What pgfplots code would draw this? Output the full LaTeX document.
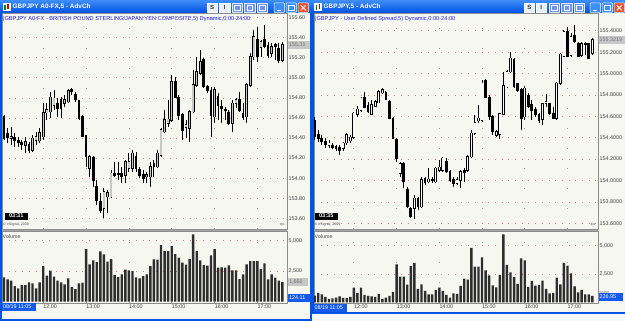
\documentclass[border=0pt]{standalone}
\usepackage{fontspec}
\setmainfont{Liberation Sans}
\newfontfamily\dejavu{DejaVu Sans}
\usepackage{pgfplots}
\usepackage{pgfplotstable}
\pgfplotsset{compat=1.18}

\definecolor{xpblue}{RGB}{0,84,227}
\definecolor{tbtop}{RGB}{62,142,250}
\definecolor{tbbot}{RGB}{0,80,224}
\definecolor{chartbg}{RGB}{247,247,242}
\definecolor{infoblue}{RGB}{30,30,230}
\definecolor{gridpink}{RGB}{228,128,128}
\definecolor{hollowL}{RGB}{200,200,200}
\definecolor{hollowR}{RGB}{250,250,250}
\definecolor{selblue}{RGB}{20,90,235}
\definecolor{btnblue}{RGB}{110,150,240}

\newcommand{\sm}{\fontsize{5.4}{6}\selectfont}

% left: GBPJPY A0-FX, 5 min candles (open high low close)
\pgfplotstableread{
o h l c
154.613 154.630 154.381 154.397
154.447 154.497 154.348 154.407
154.397 154.514 154.331 154.414
154.407 154.447 154.314 154.381
154.374 154.414 154.308 154.354
154.354 154.381 154.281 154.341
154.331 154.414 154.248 154.364
154.331 154.364 154.248 154.274
154.281 154.431 154.264 154.397
154.381 154.464 154.331 154.414
154.374 154.497 154.354 154.454
154.414 154.746 154.381 154.653
154.653 154.746 154.580 154.680
154.663 154.862 154.597 154.806
154.730 154.879 154.680 154.796
154.740 154.796 154.613 154.696
154.786 154.813 154.597 154.696
154.746 154.829 154.713 154.779
154.763 154.886 154.746 154.873
154.879 154.896 154.829 154.862
154.829 154.862 154.763 154.786
154.769 154.779 154.580 154.597
154.613 154.630 154.407 154.421
154.421 154.431 154.115 154.215
154.098 154.231 154.015 154.215
154.208 154.221 153.916 153.982
153.916 153.982 153.733 153.783
153.766 153.849 153.650 153.683
153.700 153.899 153.600 153.866
153.816 153.882 153.650 153.856
153.816 154.082 153.799 154.049
154.049 154.165 154.015 154.032
154.049 154.165 153.982 154.042
154.049 154.115 153.949 154.015
154.032 154.181 153.949 154.165
154.098 154.248 154.065 154.165
154.098 154.281 154.065 154.248
154.215 154.264 154.065 154.098
154.088 154.115 153.999 154.032
154.032 154.082 153.949 153.999
154.015 154.065 153.949 154.032
154.015 154.165 153.916 154.115
154.142 154.181 154.015 154.115
154.115 154.281 154.098 154.248
154.231 154.497 154.215 154.480
154.464 154.680 154.447 154.580
154.547 154.779 154.514 154.587
154.580 155.029 154.563 154.963
154.963 155.012 154.796 154.806
154.806 154.829 154.580 154.630
154.630 154.646 154.381 154.480
154.507 154.580 154.397 154.530
154.497 154.680 154.364 154.663
154.663 155.078 154.646 154.929
154.929 155.211 154.912 155.062
155.045 155.278 155.029 155.161
155.178 155.195 154.896 154.912
154.912 154.929 154.846 154.873
154.873 154.912 154.414 154.630
154.613 154.912 154.547 154.879
154.813 154.846 154.580 154.730
154.713 154.779 154.547 154.696
154.686 154.713 154.580 154.673
154.653 154.680 154.530 154.547
154.547 154.779 154.464 154.746
154.746 154.796 154.696 154.779
154.779 154.862 154.663 154.673
154.640 154.746 154.580 154.607
154.613 154.946 154.547 154.929
154.929 155.244 154.912 155.211
155.211 155.477 155.178 155.411
155.377 155.510 155.161 155.211
155.304 155.377 155.211 155.361
155.377 155.527 155.294 155.311
155.318 155.361 155.195 155.228
155.244 155.344 155.211 155.311
155.328 155.344 155.178 155.311
155.294 155.344 155.145 155.178
155.178 155.361 155.161 155.328
}\leftpx

% right: GBPJPY user defined spread, 5 min candles
\pgfplotstableread{
o h l c
154.560 154.597 154.379 154.410
154.426 154.472 154.363 154.394
154.394 154.426 154.332 154.363
154.363 154.394 154.301 154.341
154.332 154.379 154.301 154.348
154.323 154.348 154.292 154.310
154.317 154.332 154.279 154.301
154.307 154.332 154.239 154.279
154.301 154.363 154.279 154.348
154.354 154.441 154.332 154.426
154.373 154.426 154.354 154.404
154.404 154.644 154.385 154.628
154.622 154.697 154.597 154.665
154.659 154.783 154.644 154.768
154.778 154.830 154.675 154.684
154.697 154.737 154.628 154.644
154.622 154.753 154.612 154.706
154.697 154.753 154.684 154.737
154.728 154.846 154.721 154.830
154.821 154.862 154.809 154.846
154.821 154.840 154.753 154.759
154.737 154.753 154.572 154.581
154.581 154.597 154.385 154.394
154.379 154.394 154.176 154.207
154.067 154.176 154.036 154.155
154.155 154.176 153.927 153.989
153.912 153.943 153.740 153.756
153.740 153.756 153.647 153.662
153.740 153.865 153.637 153.834
153.834 153.849 153.725 153.756
153.756 154.036 153.740 154.005
154.021 154.036 153.958 153.980
153.989 154.114 153.974 154.011
154.011 154.036 153.980 153.999
153.989 154.130 153.974 154.114
154.098 154.192 154.083 154.123
154.098 154.223 154.083 154.207
154.176 154.207 154.067 154.083
154.083 154.098 153.989 154.005
154.005 154.036 153.943 153.974
153.974 154.036 153.958 154.005
154.005 154.098 153.927 154.083
154.092 154.114 153.989 154.073
154.098 154.239 154.083 154.223
154.223 154.472 154.207 154.441
154.441 154.612 154.426 154.541
154.560 154.706 154.535 154.581
154.566 154.940 154.550 154.908
154.933 154.946 154.768 154.778
154.778 154.799 154.566 154.597
154.597 154.612 154.426 154.457
154.426 154.472 154.410 154.457
154.435 154.634 154.385 154.622
154.622 155.017 154.612 154.883
154.877 155.033 154.862 155.017
155.017 155.204 155.002 155.142
155.133 155.142 154.862 154.877
154.902 154.915 154.830 154.846
154.846 154.862 154.472 154.581
154.597 154.883 154.566 154.862
154.790 154.815 154.675 154.690
154.706 154.753 154.566 154.659
154.665 154.684 154.597 154.622
154.612 154.628 154.535 154.566
154.572 154.728 154.519 154.715
154.721 154.809 154.690 154.737
154.715 154.728 154.612 154.628
154.622 154.684 154.572 154.581
154.581 154.924 154.566 154.908
154.908 155.189 154.893 155.179
155.164 155.407 155.151 155.391
155.391 155.438 155.151 155.164
155.173 155.376 155.158 155.345
155.351 155.454 155.282 155.298
155.282 155.298 155.151 155.158
155.173 155.298 155.158 155.276
155.282 155.298 155.173 155.276
155.276 155.288 155.133 155.142
155.189 155.329 155.173 155.313
}\rightpx

\pgfplotstableread{
v
1993
1829
1720
1283
1092
1365
1365
1583
1502
1092
1583
2921
2129
2539
2048
1720
1583
1420
1911
1201
1037
1502
1556
4313
3058
3385
3249
4122
3877
3276
3494
2184
2020
2239
2621
2566
2512
1993
1911
2102
2239
2921
3467
3440
4641
4150
4150
4559
3904
3604
3194
3030
3494
5515
4150
3385
3003
2948
3795
4313
2785
2812
2785
2976
2566
2566
1856
2239
3058
3331
3331
3331
2675
3140
1829
2239
1966
1720
1611
}\leftvol

\pgfplotstableread{
v
588
823
706
470
294
353
412
529
382
382
470
1294
823
1294
647
559
529
470
735
294
412
559
911
3352
2264
2264
1558
3205
3469
1176
1588
1000
706
706
1088
1294
1000
647
412
794
735
1441
2087
1999
4792
3146
3146
3969
2822
2381
1499
1323
2411
5998
3293
2646
2234
1617
3881
3704
1352
1882
1470
1529
1911
1176
794
823
2176
1588
3469
3234
2558
1411
882
1088
706
706
559
}\rightvol

\pgfplotsset{
  panel/.style={scale only axis, anchor=north west,
    axis line style={draw=black!45, line width=0.6pt},
    major tick length=0pt, tick style={draw=none},
    xtick={11,23,35,47,59,71},
    xmajorgrids, ymajorgrids,
    x grid style={draw=black!40, line width=0.8pt, dash pattern=on 0.8pt off 19.2pt},
    y grid style={draw=gridpink, line width=0.7pt, dash pattern=on 0.8pt off 5.9pt},
    ticklabel style={font=\sm, text=black!75},
    yticklabel pos=right,
    yticklabel style={anchor=west, inner sep=0pt, xshift=1.5pt},
    /pgf/number format/assume math mode=true,
    scaled y ticks=false,
  },
  cbar/.style 2 args={draw=none, mark=none, forget plot,
    error bars/.cd, y dir=plus, y explicit, error mark=none,
    error bar style={draw=#1, solid, line cap=butt, line width=#2}},
}

\begin{document}
\begin{tikzpicture}
\path[use as bounding box] (0pt,0pt) rectangle (625pt,-321pt);
\begin{scope}[x=1pt,y=-1pt]
  % window frames
  \fill[xpblue] (0,0) rectangle (311.5,321);
  \fill[chartbg] (2,13) rectangle (309.5,318.5);
  \fill[white!94!gray] (311.5,313.5) rectangle (625,321);
  \fill[xpblue] (311.5,0) rectangle (625,313.5);
  \fill[chartbg] (314,13) rectangle (625,311.5);
  % title bars
  \shade[top color=tbtop, bottom color=tbbot] (0,0) rectangle (311.5,13);
  \shade[top color=tbtop, bottom color=tbbot] (311.5,0) rectangle (625,13);
  % separators
  \fill[black!35] (2,229) rectangle (287,231);
  \fill[black!35] (314,229) rectangle (598,231);
\end{scope}

% ---------- LEFT WINDOW ----------
\begin{axis}[panel, at={(2pt,-13pt)}, width=285pt, height=216pt,
  xmin=-0.56, xmax=79.3, ymin=153.494, ymax=155.646,
  ytick={153.6,153.8,154.0,154.2,154.4,154.6,154.8,155.0,155.2,155.4,155.6},
  xticklabel={\relax},
  yticklabel style={/pgf/number format/.cd, fixed, fixed zerofill, precision=2}]
\addplot[cbar={black}{0.85pt}] table[x expr=\coordindex, y=l, y error plus expr={\thisrow{h}-\thisrow{l}}] {\leftpx};
\addplot[cbar={black}{2.75pt}] table[x expr=\coordindex, y expr={min(\thisrow{o},\thisrow{c})-0.006}, y error plus expr={abs(\thisrow{c}-\thisrow{o})+0.012}] {\leftpx};
\addplot[cbar={hollowL}{1.4pt}] table[x expr=\coordindex, y expr={min(\thisrow{o},\thisrow{c})}, y error plus expr={max(\thisrow{c}-\thisrow{o},0)}] {\leftpx};
\end{axis}

\begin{axis}[panel, at={(2pt,-231pt)}, width=285pt, height=72pt,
  xmin=-0.56, xmax=79.3, ymin=-107, ymax=5795,
  ytick={2500,5000},
  xticklabels={12:00,13:00,14:00,15:00,16:00,17:00},
  xticklabel style={anchor=north west, inner sep=0pt, yshift=-1.5pt},
  yticklabel style={/pgf/number format/.cd, fixed, 1000 sep={,}}]
\addplot[ybar, bar width=2.4pt, fill=black!82, draw=none] table[x expr=\coordindex, y=v] {\leftvol};
\end{axis}

% ---------- RIGHT WINDOW ----------
\begin{axis}[panel, at={(314pt,-13pt)}, width=284pt, height=216pt,
  xmin=-0.2, xmax=79.58, ymin=153.547, ymax=155.566,
  ytick={153.6,153.8,154.0,154.2,154.4,154.6,154.8,155.0,155.2,155.4},
  xticklabel={\relax},
  yticklabel style={/pgf/number format/.cd, fixed, fixed zerofill, precision=4}]
\addplot[cbar={black}{0.85pt}] table[x expr=\coordindex, y=l, y error plus expr={\thisrow{h}-\thisrow{l}}] {\rightpx};
\addplot[cbar={black}{2.75pt}] table[x expr=\coordindex, y expr={min(\thisrow{o},\thisrow{c})-0.006}, y error plus expr={abs(\thisrow{c}-\thisrow{o})+0.012}] {\rightpx};
\addplot[cbar={hollowR}{1.4pt}] table[x expr=\coordindex, y expr={min(\thisrow{o},\thisrow{c})}, y error plus expr={max(\thisrow{c}-\thisrow{o},0)}] {\rightpx};
\end{axis}

\begin{axis}[panel, at={(314pt,-231pt)}, width=284pt, height=72pt,
  xmin=-0.2, xmax=79.58, ymin=-62, ymax=6288,
  ytick={2500,5000},
  xticklabels={12:00,13:00,14:00,15:00,16:00,17:00},
  xticklabel style={anchor=north west, inner sep=0pt, yshift=-1.5pt},
  yticklabel style={/pgf/number format/.cd, fixed, 1000 sep={,}}]
\addplot[ybar, bar width=2.4pt, fill=black!82, draw=none] table[x expr=\coordindex, y=v] {\rightvol};
\end{axis}

\begin{scope}[x=1pt,y=-1pt]
  % title texts and icons
  \fill[white] (2.5,3) rectangle (10.5,11);
  \fill[green!55!black] (4,5) rectangle (5.6,10);
  \fill[red!80!black] (7,4) rectangle (8.6,9);
  \node[anchor=west, inner sep=0pt, text=white, font=\bfseries\fontsize{6.4}{7}\selectfont] at (12.5,6.6) {GBPJPY A0-FX,5 - AdvCh};
  \fill[white] (314,3) rectangle (322,11);
  \fill[green!55!black] (315.5,5) rectangle (317.1,10);
  \fill[red!80!black] (318.5,4) rectangle (320.1,9);
  \node[anchor=west, inner sep=0pt, text=white, font=\bfseries\fontsize{6.4}{7}\selectfont] at (323.5,6.6) {GBPJPY,5 - AdvCh};
  % buttons left
  \foreach \bx/\bl in {207/S,219.5/I}{
    \filldraw[fill=white!85!btnblue, draw=white, line width=0.4pt] (\bx,3) rectangle ++(10.5,9.5);
    \node[font=\bfseries\fontsize{6}{6}\selectfont, text=black!80, inner sep=0pt] at (\bx+5.25,7.75) {\bl};}
  \foreach \bx in {232,244.5,257}{
    \filldraw[fill=btnblue, draw=white!80!btnblue, line width=0.4pt] (\bx,3) rectangle ++(10.5,9.5);
    \draw[white, line width=0.5pt] (\bx+2.5,5.5) rectangle ++(5.5,4.5);}
  \filldraw[fill=tbtop, draw=white, line width=0.5pt, rounded corners=0.8pt] (274,3) rectangle ++(10.5,9.5);
  \draw[white, line width=1pt] (276.5,10.5) -- ++(4,0);
  \filldraw[fill=tbtop, draw=white, line width=0.5pt, rounded corners=0.8pt] (286,3) rectangle ++(10.5,9.5);
  \draw[white, line width=0.6pt] (288.5,5.3) rectangle ++(5.5,5);
  \filldraw[fill={rgb,255:red,226;green,86;blue,50}, draw=white, line width=0.5pt, rounded corners=0.8pt] (298,3) rectangle ++(10.5,9.5);
  \draw[white, line width=0.9pt] (300.8,5.2) -- ++(5,5) (300.8,10.2) -- ++(5,-5);
  % buttons right
  \foreach \bx/\bl in {524/S,536/I}{
    \filldraw[fill=white!85!btnblue, draw=white, line width=0.4pt] (\bx,3) rectangle ++(10.5,9.5);
    \node[font=\bfseries\fontsize{6}{6}\selectfont, text=black!80, inner sep=0pt] at (\bx+5.25,7.75) {\bl};}
  \foreach \bx in {549,561.5,574}{
    \filldraw[fill=btnblue, draw=white!80!btnblue, line width=0.4pt] (\bx,3) rectangle ++(10.5,9.5);
    \draw[white, line width=0.5pt] (\bx+2.5,5.5) rectangle ++(5.5,4.5);}
  \filldraw[fill=tbtop, draw=white, line width=0.5pt, rounded corners=0.8pt] (590,3) rectangle ++(10.5,9.5);
  \draw[white, line width=1pt] (592.5,10.5) -- ++(4,0);
  \filldraw[fill=tbtop, draw=white, line width=0.5pt, rounded corners=0.8pt] (602,3) rectangle ++(10.5,9.5);
  \draw[white, line width=0.6pt] (604.5,5.3) rectangle ++(5.5,5);
  \filldraw[fill={rgb,255:red,226;green,86;blue,50}, draw=white, line width=0.5pt, rounded corners=0.8pt] (614,3) rectangle ++(10.5,9.5);
  \draw[white, line width=0.9pt] (616.8,5.2) -- ++(5,5) (616.8,10.2) -- ++(5,-5);

  % info lines
  \node[anchor=west, inner sep=0pt, text=infoblue, font=\fontsize{5.65}{6}\selectfont] at (2.5,19) {(GBPJPY A0-FX - BRITISH POUND STERLING/JAPAN YEN COMPOSITE,5) Dynamic,0:00-24:00};
  \node[anchor=west, inner sep=0pt, text=infoblue, font=\fontsize{5.65}{6}\selectfont] at (314.5,19) {(GBPJPY - User Defined Spread,5) Dynamic,0:00-24:00};

  % clocks, copyright, volume labels
  \fill[black] (5,212.5) rectangle (27.5,219.5);
  \node[text=white, font=\bfseries\fontsize{5.6}{6}\selectfont, inner sep=0pt] at (16.25,216) {03:31};
  \fill[black] (315,212.5) rectangle (337.5,219.5);
  \node[text=white, font=\bfseries\fontsize{5.6}{6}\selectfont, inner sep=0pt] at (326.25,216) {03:35};
  \node[anchor=west, inner sep=0pt, font=\fontsize{3.6}{4}\selectfont, text=black!70] at (3,225) {© eSignal, 2009};
  \node[anchor=west, inner sep=0pt, font=\fontsize{3.6}{4}\selectfont, text=black!70] at (314.5,225) {© eSignal, 2009};
  \node[anchor=west, inner sep=0pt, font=\sm, text=black!70] at (2.5,236.5) {Volume};
  \node[anchor=west, inner sep=0pt, font=\sm, text=black!70] at (314.5,236.5) {Volume};
  \node[inner sep=0pt, font=\dejavu\fontsize{6}{6}\selectfont, text=black!70] at (282.5,224.5) {⇦};
  \node[inner sep=0pt, font=\dejavu\fontsize{6}{6}\selectfont, text=black!70] at (593,224.5) {⇦};

  % current value boxes
  \fill[black!22] (288,41) rectangle (310,49);
  \node[anchor=west, inner sep=0pt, font=\sm, text=black!55] at (289,45) {155.31};
  \fill[black!22] (598.5,36) rectangle (625,44);
  \node[anchor=west, inner sep=0pt, font=\sm, text=black!55] at (599.5,40) {155.3219};
  \fill[black!22] (288,278) rectangle (308,286);
  \node[anchor=west, inner sep=0pt, font=\sm, text=black!55] at (289,282) {1,660};
  \fill[black!22] (598.5,290.5) rectangle (609,293);

  \fill[selblue] (288,293.5) rectangle (310,301.5);
  \node[anchor=west, inner sep=0pt, font=\sm, text=white] at (289,297.5) {124.11};
  \fill[selblue] (598.5,293) rectangle (623,301);
  \node[anchor=west, inner sep=0pt, font=\sm, text=white] at (599.5,297) {226.95};

  \fill[selblue] (2,303) rectangle (36,311);
  \node[anchor=west, inner sep=0pt, font=\sm, text=white] at (3,307) {08/19 11:05};
  \fill[selblue] (314,304) rectangle (347,311.5);
  \node[anchor=west, inner sep=0pt, font=\sm, text=white] at (314.5,307.7) {08/19 11:05};
\end{scope}
\end{tikzpicture}
\end{document}
